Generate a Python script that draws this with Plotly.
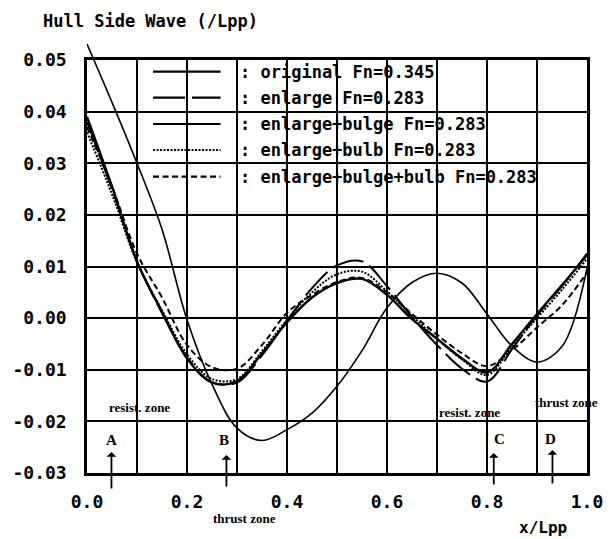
import plotly.graph_objects as go

# ---------------- data ----------------
x_pos = [0.0, 0.05, 0.10, 0.15, 0.20, 0.25, 0.30, 0.35, 0.40, 0.45, 0.50,
         0.55, 0.60, 0.65, 0.70, 0.75, 0.80, 0.85, 0.90, 0.95, 1.00]

original_fn0345 = [0.0531, 0.0418, 0.0300, 0.0172, -0.0003, -0.0128, -0.0213, -0.0237,
                   -0.0216, -0.0184, -0.0132, -0.0063, 0.0020, 0.0069, 0.0087, 0.0068,
                   0.0008, -0.0054, -0.0085, -0.0055, 0.0097]
enlarge = [0.0380, 0.0250, 0.0110, 0.0010, -0.0076, -0.0124, -0.0125, -0.0072,
           -0.0005, 0.0058, 0.0102, 0.0110, 0.0062, 0.0002, -0.0052, -0.0098,
           -0.0123, -0.0060, 0.0005, 0.0062, 0.0125]
enlarge_bulge = [0.0390, 0.0255, 0.0110, 0.0012, -0.0078, -0.0125, -0.0122, -0.0068,
                 -0.0008, 0.0040, 0.0068, 0.0076, 0.0045, -0.0002, -0.0040, -0.0078,
                 -0.0105, -0.0050, 0.0008, 0.0064, 0.0122]
enlarge_bulb = [0.0360, 0.0240, 0.0108, 0.0015, -0.0070, -0.0118, -0.0118, -0.0064,
                -0.0003, 0.0050, 0.0085, 0.0090, 0.0052, 0.0005, -0.0040, -0.0080,
                -0.0110, -0.0055, 0.0000, 0.0055, 0.0115]
enlarge_bulge_bulb = [0.0370, 0.0255, 0.0125, 0.0040, -0.0052, -0.0095, -0.0098, -0.0052,
                      0.0010, 0.0045, 0.0070, 0.0078, 0.0050, 0.0008, -0.0032, -0.0068,
                      -0.0093, -0.0062, -0.0018, 0.0025, 0.0088]

series_labels = [": original Fn=0.345", ": enlarge Fn=0.283", ": enlarge+bulge Fn=0.283",
                 ": enlarge+bulb Fn=0.283", ": enlarge+bulge+bulb Fn=0.283"]
series_values = [original_fn0345, enlarge, enlarge_bulge, enlarge_bulb, enlarge_bulge_bulb]
series_dash = ["solid", "32px,7px", "solid", "2px,1.5px", "6px,3.5px"]
series_width = [1.6, 2.0, 2.4, 2.0, 2.0]

x_tick_vals = [0.0, 0.1, 0.2, 0.3, 0.4, 0.5, 0.6, 0.7, 0.8, 0.9, 1.0]
x_tick_text = ["0.0", "", "0.2", "", "0.4", "", "0.6", "", "0.8", "", "1.0"]
y_tick_vals = [-0.03, -0.02, -0.01, 0.0, 0.01, 0.02, 0.03, 0.04, 0.05]
y_tick_text = ["-0.03", "-0.02", "-0.01", "0.00", "0.01", "0.02", "0.03", "0.04", "0.05"]

# ---------------- layout geometry ----------------
W, H = 615, 539
ML, MR, MT, MB = 81, 23, 43, 66
plot_w = W - ML - MR
plot_h = H - MT - MB
dom_top = (H - MB - 60) / plot_h          # main frame top at 60 px
y_lo, y_hi = -0.03, 0.05
y2_hi = y_lo + (y_hi - y_lo) / dom_top    # extended axis for the curve leaving the frame

MONO = "DejaVu Sans Mono"
SERIF = "Liberation Serif"

fig = go.Figure()
for i, (lab, vals) in enumerate(zip(series_labels, series_values)):
    on_ext = (i == 0)
    fig.add_trace(go.Scatter(
        x=x_pos, y=vals, mode="lines", name=lab, showlegend=False,
        line=dict(color="black", width=series_width[i], dash=series_dash[i],
                  shape="spline", smoothing=1.0),
        xaxis="x2" if on_ext else "x", yaxis="y2" if on_ext else "y",
    ))

axis_common = dict(showline=True, linecolor="black", linewidth=2.5, mirror=True,
                   showgrid=True, gridcolor="black", gridwidth=2.2, zeroline=False,
                   ticks="", tickfont=dict(family=MONO, size=18, color="black", weight="bold"))

fig.update_layout(
    width=W, height=H,
    margin=dict(l=ML, r=MR, t=MT, b=MB, pad=0),
    paper_bgcolor="white", plot_bgcolor="rgba(0,0,0,0)",
    xaxis=dict(range=[0, 1], domain=[0, 1], tickvals=x_tick_vals, ticktext=x_tick_text,
               ticklabelstandoff=11, anchor="y", **axis_common),
    yaxis=dict(range=[y_lo, y_hi], domain=[0, dom_top], tickvals=y_tick_vals,
               ticktext=y_tick_text, ticklabelstandoff=14, anchor="x", **axis_common),
    xaxis2=dict(range=[0, 1], domain=[0, 1], visible=False, anchor="y2"),
    yaxis2=dict(range=[y_lo, y2_hi], domain=[0, 1], visible=False, anchor="x2"),
)

# ---------------- helpers: pixel -> paper / data coords ----------------
def px_x(px):
    return (px - ML) / plot_w

def px_y(py):
    return (H - MB - py) / plot_h

def dx(px):
    return (px - ML) / plot_w

def dy(py):
    return y_hi - (py - 60) / (H - MB - 60) * (y_hi - y_lo)

ann = []
bold_mono = dict(family=MONO, size=17, color="black", weight="bold")
# axis titles
ann.append(dict(text="Hull Side Wave (/Lpp)", x=px_x(258), y=px_y(21), xanchor="right",
                yanchor="middle", font=bold_mono))
ann.append(dict(text="x/Lpp", x=px_x(547), y=px_y(527), xanchor="center", yanchor="middle",
                font=dict(family=MONO, size=16, color="black", weight="bold")))

# legend (manual, drawn like the original plotter legend)
leg_rows = [71.7, 97.7, 124.0, 150.0, 176.7]
shapes = []
for i, lab in enumerate(series_labels):
    shapes.append(dict(type="line", xref="x", yref="y", x0=dx(148.5), x1=dx(217.5),
                       y0=dy(leg_rows[i]), y1=dy(leg_rows[i]),
                       line=dict(color="black", width=2.2, dash=series_dash[i])))
    ann.append(dict(text=lab, x=px_x(235), y=px_y(leg_rows[i]), xanchor="left",
                    yanchor="middle", font=bold_mono))

# zone labels
zone_font = dict(family=SERIF, size=13, color="black", weight="bold")
letter_font = dict(family=SERIF, size=15, color="black", weight="bold")
for txt, px, py in [("resist. zone", 135, 407), ("resist. zone", 472, 412),
                    ("thrust zone", 242, 518), ("thrust zone", 571, 403)]:
    ann.append(dict(text=txt, x=px_x(px), y=px_y(py), xanchor="center", yanchor="middle",
                    font=zone_font))
for txt, px, py in [("A", 106.5, 440), ("B", 221, 440), ("C", 503, 439), ("D", 555, 439)]:
    ann.append(dict(text=txt, x=px_x(px), y=px_y(py), xanchor="center", yanchor="middle",
                    font=letter_font))
# arrows
for px, py, ln in [(106, 452, 38), (223.5, 455, 33), (496.7, 453, 33), (556.7, 450, 35)]:
    ann.append(dict(text="", x=px_x(px), y=px_y(py), ax=0, ay=ln, showarrow=True,
                    arrowhead=1, arrowsize=0.9, arrowwidth=1.8, arrowcolor="black"))

for a in ann:
    a.setdefault("xref", "paper")
    a.setdefault("yref", "paper")
    a.setdefault("showarrow", False)

fig.update_layout(annotations=ann, shapes=shapes)
fig.write_html("out.html")
